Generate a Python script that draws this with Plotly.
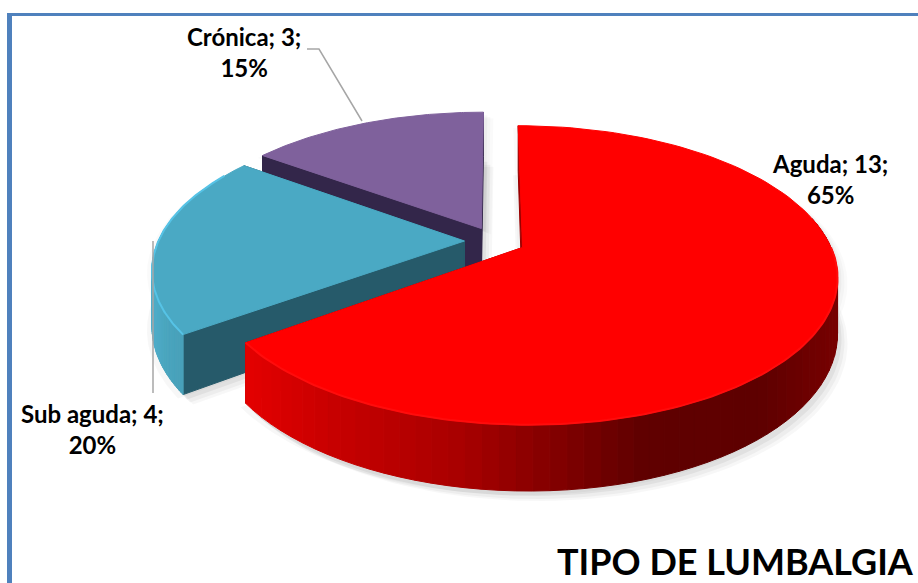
import math
import plotly.graph_objects as go

categories = ["Aguda", "Sub aguda", "Crónica"]
values = [13, 4, 3]
title_text = "TIPO DE LUMBALGIA"

top_colors = ["#ff0000", "#4aa9c4", "#7f619c"]
rim_colors = ["#ff0c0c", "#56c3e6", "#8a6ca8"]
radial_colors = ["#990000", "#265a6a", "#33264a"]
label_xy = [(830, 179), (92, 429), (244, 52)]

W, H = 918, 583
X0, Y0, A, B, K, E, D = 495, 241, 306, 142, 0.184, 0.1, 53.5


def project(u, v, drop=0.0):
    w = 1 + K * v
    return X0 + A * u / w, Y0 - B * v / w + drop / w


def point(theta, mid, radius=1.0, drop=0.0):
    t, m = math.radians(theta), math.radians(mid)
    return project(radius * math.sin(t) + E * math.sin(m),
                   radius * math.cos(t) + E * math.cos(m), drop)


def arc(a, b, mid, drop=0.0, n=120):
    return [point(a + (b - a) * i / n, mid, 1.0, drop) for i in range(n + 1)]


def poly(pts, color, name="", line=None, lw=1):
    xs = [p[0] for p in pts] + [pts[0][0]]
    ys = [p[1] for p in pts] + [pts[0][1]]
    return go.Scatter(x=xs, y=ys, mode="lines", fill="toself", fillcolor=color,
                      line=dict(color=line or color, width=lw), hoverinfo="skip",
                      name=name, showlegend=False)


def lerp(stops, x):
    if x <= stops[0][0]:
        return stops[0][1]
    for (x1, c1), (x2, c2) in zip(stops, stops[1:]):
        if x <= x2:
            f = (x - x1) / (x2 - x1)
            return tuple(c1[i] + (c2[i] - c1[i]) * f for i in range(3))
    return stops[-1][1]


side_stops = [
    [(250, (226, 0, 0)), (330, (200, 0, 0)), (460, (168, 0, 0)), (560, (128, 0, 0)),
     (640, (96, 0, 0)), (760, (94, 0, 0)), (840, (120, 0, 0))],
    [(150, (80, 175, 205)), (165, (74, 165, 190)), (200, (70, 155, 180))],
    [(0, (51, 38, 74)), (900, (51, 38, 74))],
]

total = sum(values)
spans = []
cursor = 0.0
for v in values:
    spans.append((cursor, cursor + v / total * 360))
    cursor += v / total * 360

fig = go.Figure()

# soft shadows
for dx, dy, alpha in [(10, 10, .03), (7, 8, .04), (4, 5, .05), (-5, 4, .03)]:
    for (a, b) in spans:
        mid = (a + b) / 2
        apex = point(0, mid, 0.0, D)
        base = [apex] + arc(a, b, mid, D)
        apex_top = point(0, mid, 0.0)
        top = [apex_top] + arc(a, b, mid)
        fig.add_trace(poly([(x + dx, y + dy) for x, y in base],
                           f"rgba(0,0,0,{alpha})", line="rgba(0,0,0,0)"))
        fig.add_trace(poly([(x + dx, y + dy * .6) for x, y in top],
                           f"rgba(0,0,0,{alpha * .6})", line="rgba(0,0,0,0)"))

# slices painted back to front
for idx in [2, 1, 0]:
    a, b = spans[idx]
    mid = (a + b) / 2
    apex, apex_d = point(0, mid, 0.0), point(0, mid, 0.0, D)
    for edge in (b, a):
        p, pd = point(edge, mid), point(edge, mid, 1.0, D)
        fig.add_trace(poly([apex, p, pd, apex_d], radial_colors[idx]))
    n = 90
    for i in range(n):
        t1 = a + (b - a) * i / n
        t2 = a + (b - a) * (i + 1) / n
        p1, p2 = point(t1, mid), point(t2, mid)
        q1, q2 = point(t1, mid, 1.0, D), point(t2, mid, 1.0, D)
        if math.cos(math.radians(t1)) > 0.25:
            continue
        r, g, bl = lerp(side_stops[idx], (p1[0] + p2[0]) / 2)
        col = f"rgb({r:.0f},{g:.0f},{bl:.0f})"
        fig.add_trace(poly([p1, p2, q2, q1], col))
    top = [apex] + arc(a, b, mid)
    fig.add_trace(poly(top, top_colors[idx], name=categories[idx]))
    if idx < 2:
        ra = a if idx == 1 else 90
        rim = arc(ra, 300 if idx == 1 else 234, mid)
        fig.add_trace(go.Scatter(x=[p[0] for p in rim], y=[p[1] for p in rim], mode="lines",
                                 line=dict(color=rim_colors[idx], width=2), hoverinfo="skip",
                                 showlegend=False))

for cat, val, (lx, ly) in zip(categories, values, label_xy):
    fig.add_annotation(x=lx, y=ly, xref="x", yref="y", showarrow=False, align="center",
                       text=f"<b>{cat}; {val};<br>{val / total * 100:.0f}%</b>",
                       font=dict(family="Lato", size=24, color="#000000"))

fig.add_annotation(x=555, y=561, xref="x", yref="y", xanchor="left", showarrow=False,
                   text=f"<b>{title_text}</b>",
                   font=dict(family="Lato", size=36, color="#000000"))

frame = "#4f81bd"
leader = dict(color="#a6a6a6", width=1.5)
fig.update_layout(
    width=W, height=H, margin=dict(l=0, r=0, t=0, b=0),
    paper_bgcolor="white", plot_bgcolor="white", showlegend=False,
    xaxis=dict(range=[0, W], visible=False, fixedrange=True),
    yaxis=dict(range=[H, 0], visible=False, fixedrange=True),
    shapes=[
        dict(type="rect", xref="x", yref="y", x0=7, x1=W, y0=13, y1=16, fillcolor=frame, line_width=0),
        dict(type="rect", xref="x", yref="y", x0=7, x1=12, y0=13, y1=H, fillcolor=frame, line_width=0),
        dict(type="path", xref="x", yref="y", path="M 307 49 L 319 49 L 362 121", line=leader),
        dict(type="path", xref="x", yref="y", path="M 153 241 L 153 393", line=leader),
    ],
)
fig.write_html("out.html", config=dict(displayModeBar=False),
               post_script="document.body.style.margin='0';document.documentElement.style.overflow='hidden';")
